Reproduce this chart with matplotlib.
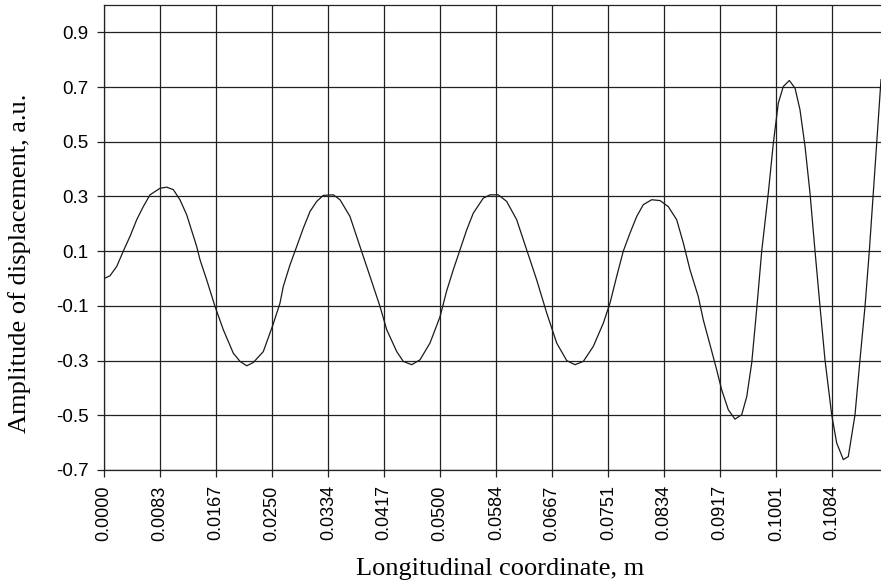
import matplotlib
matplotlib.use("Agg")
import matplotlib.pyplot as plt

# Data (longitudinal coordinate in m, amplitude in a.u.)
x_m = [0.00000, 0.00089, 0.00189, 0.00287, 0.00387, 0.00487, 0.00585, 0.00685,
       0.00834, 0.00933, 0.01032, 0.01131, 0.01231, 0.01380, 0.01429, 0.01529,
       0.01653, 0.01776, 0.01925, 0.02025, 0.02125, 0.02223, 0.02372, 0.02521,
       0.02620, 0.02669, 0.02769, 0.02869, 0.02967, 0.03067, 0.03167, 0.03265,
       0.03414, 0.03514, 0.03662, 0.03811, 0.03960, 0.04109, 0.04209, 0.04358,
       0.04456, 0.04581, 0.04705, 0.04853, 0.05002, 0.05102, 0.05200, 0.05300,
       0.05400, 0.05498, 0.05647, 0.05747, 0.05870, 0.05995, 0.06144, 0.06293,
       0.06442, 0.06591, 0.06740, 0.06889, 0.07012, 0.07136, 0.07285, 0.07434,
       0.07533, 0.07633, 0.07731, 0.07831, 0.07931, 0.08029, 0.08154, 0.08278,
       0.08401, 0.08526, 0.08625, 0.08724, 0.08848, 0.08922, 0.09022, 0.09122,
       0.09196, 0.09295, 0.09394, 0.09494, 0.09569, 0.09643, 0.09718, 0.09792,
       0.09890, 0.09965, 0.10039, 0.10113, 0.10203, 0.10288, 0.10362, 0.10437,
       0.10511, 0.10585, 0.10660, 0.10734, 0.10834, 0.10908, 0.11007, 0.11081,
       0.11181, 0.11255, 0.11330, 0.11394, 0.11453, 0.11504, 0.11568]
amplitude = [0.000, 0.010, 0.044, 0.100, 0.154, 0.215, 0.263, 0.306,
             0.330, 0.334, 0.325, 0.288, 0.233, 0.117, 0.069, -0.005,
             -0.102, -0.187, -0.273, -0.303, -0.319, -0.307, -0.267, -0.165,
             -0.090, -0.029, 0.050, 0.117, 0.184, 0.245, 0.282, 0.304,
             0.306, 0.288, 0.227, 0.117, 0.008, -0.102, -0.187, -0.267,
             -0.303, -0.315, -0.297, -0.236, -0.140, -0.045, 0.032, 0.105,
             0.178, 0.239, 0.294, 0.306, 0.306, 0.282, 0.215, 0.105,
             -0.005, -0.126, -0.236, -0.300, -0.315, -0.303, -0.248, -0.163,
             -0.090, 0.008, 0.100, 0.166, 0.227, 0.270, 0.288, 0.285,
             0.263, 0.215, 0.130, 0.032, -0.066, -0.151, -0.242, -0.334,
             -0.407, -0.480, -0.514, -0.498, -0.432, -0.309, -0.110, 0.100,
             0.312, 0.495, 0.641, 0.702, 0.724, 0.696, 0.617, 0.483,
             0.312, 0.102, -0.102, -0.297, -0.498, -0.601, -0.662, -0.651,
             -0.498, -0.297, -0.102, 0.100, 0.312, 0.495, 0.727]

x_tick_labels = ["0.0000", "0.0083", "0.0167", "0.0250", "0.0334", "0.0417",
                 "0.0500", "0.0584", "0.0667", "0.0751", "0.0834", "0.0917",
                 "0.1001", "0.1084"]
y_tick_labels = ["-0.7", "-0.5", "-0.3", "-0.1", "0.1", "0.3", "0.5", "0.7", "0.9"]

x_ticks = [float(s) for s in x_tick_labels]
y_ticks = [float(s) for s in y_tick_labels]

fig = plt.figure(figsize=(8.81, 5.80), dpi=100)
ax = fig.add_axes([104 / 881, 110 / 580, 1 - 104 / 881, 465 / 580])

ax.plot(x_m, amplitude, color="#1a1a1a", linewidth=0.9, zorder=3)

ax.set_xlim(0, 0.11568)
ax.set_ylim(-0.7, 1.0)
ax.set_xticks(x_ticks)
ax.set_xticklabels(x_tick_labels, rotation=90, fontfamily="Liberation Sans", fontsize=13)
ax.set_yticks(y_ticks)
ax.set_yticklabels(y_tick_labels, fontfamily="Liberation Sans", fontsize=13.5)
ax.tick_params(axis="both", direction="out", length=5, width=0.9, color="#222222")
ax.tick_params(axis="x", pad=6)
ax.tick_params(axis="y", pad=6)

ax.grid(True, color="#222222", linewidth=0.9)
ax.set_axisbelow(True)
for side in ["left", "top", "bottom"]:
    ax.spines[side].set_color("#222222")
    ax.spines[side].set_linewidth(0.9)
ax.spines["right"].set_visible(False)

fig.text(500 / 881, 1 - 575 / 580, "Longitudinal coordinate, m",
         ha="center", va="baseline", fontfamily="Liberation Serif", fontsize=19)
fig.text(20 / 881, 1 - 263 / 580, "Amplitude of displacement, a.u.",
         ha="center", va="center", rotation=90, fontfamily="Liberation Serif", fontsize=19)

fig.savefig("out.png", dpi=100)
